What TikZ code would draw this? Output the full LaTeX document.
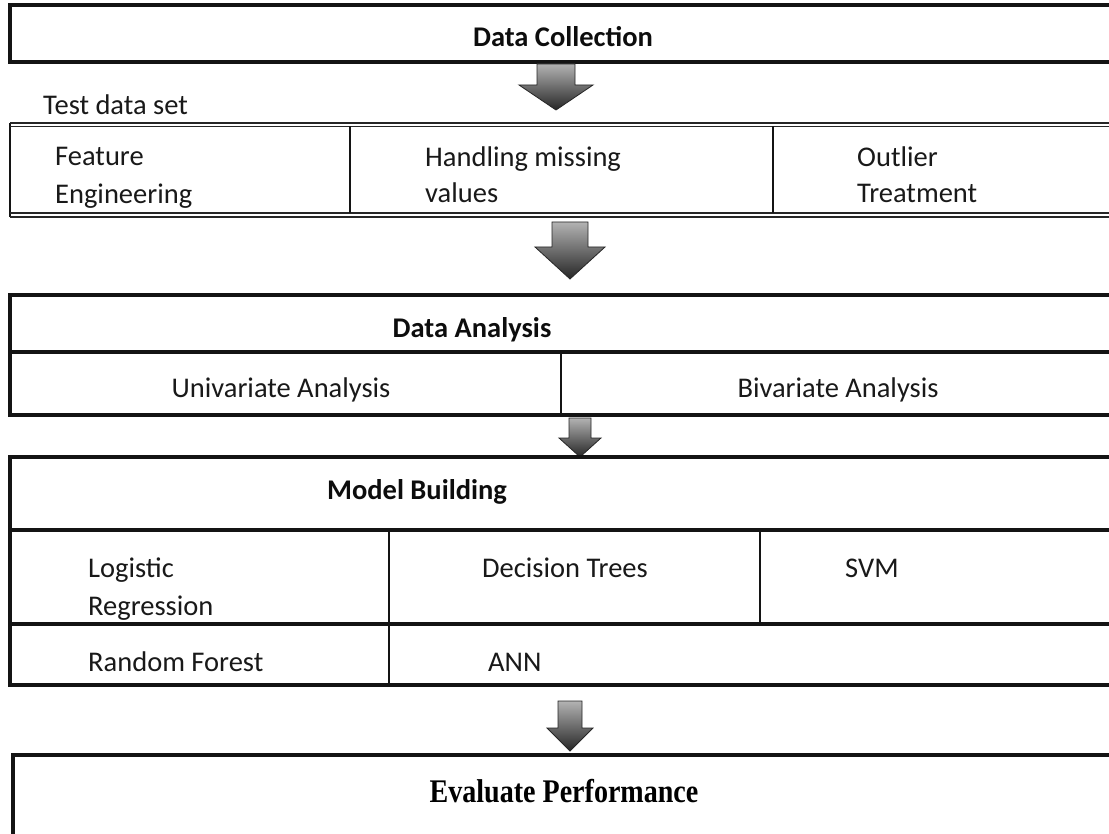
\documentclass[tikz,border=0pt]{standalone}
\usepackage{fontspec}
\setmainfont{Carlito}
\newfontfamily\evalfont{Liberation Serif}
\usetikzlibrary{calc}
\tikzset{
  box/.style={draw=black!92, line width=3.2pt, rectangle, inner sep=0pt, outer sep=0pt, anchor=north west},
  rowline/.style={draw=black!92, line width=3.2pt},
  colline/.style={draw=black!92, line width=2.2pt},
  dbl/.style={draw=black!85, line width=1.4pt},
  lbl/.style={inner sep=0pt, text=black!90, font=\fontsize{28.5}{34}\selectfont},
  lblw/.style={lbl, anchor=base west},
  lblc/.style={lbl, anchor=base},
  hdr/.style={inner sep=0pt, anchor=base, text=black!95, font=\fontsize{28.5}{34}\selectfont\bfseries},
  blockarrow/.style={draw=black!85, line width=0.8pt, top color=black!30, bottom color=black!85, line join=miter},
}
\newcommand\blockarr[6]{% cx, ytop, ybot, shaft half, head half, head start
  \path[blockarrow] ({#1-#4},#2) -- ({#1+#4},#2) -- ({#1+#4},#6) -- ({#1+#5},#6) -- (#1,#3)
    -- ({#1-#5},#6) -- ({#1-#4},#6) -- cycle;}
\begin{document}
\begin{tikzpicture}[x=1pt,y=-1pt]
\useasboundingbox (0,0) rectangle (1109,834);
\clip (0,0) rectangle (1109,834);
\fill[white] (0,0) rectangle (1109,834);

% Data Collection
\node[box, minimum width=1120pt, minimum height=57pt] (dc) at (10,5) {};
\node[hdr] (dct) at (563,47) {Data Collection};

% arrow 1
\blockarr{556}{64}{110}{19}{37}{85}

% Test data set table
\node[lblw] (tds) at (43,115) {Test data set};
\coordinate (t1tl) at (10,123);
\coordinate (t1bl) at (10,217);
\draw[colline, line width=2.6pt] (t1tl) -- (t1bl);
\draw[dbl] (t1tl) -- ++(1120,0);
\draw[dbl] (10,126.5) -- ++(1120,0);
\draw[dbl] (10,213) -- ++(1120,0);
\draw[dbl] (t1bl) -- ++(1120,0);
\coordinate (c1a) at (350,126.5);
\coordinate (c1b) at (350,213);
\coordinate (c2a) at (773,126.5);
\coordinate (c2b) at (773,213);
\draw[colline] (c1a) -- (c1b);
\draw[colline] (c2a) -- (c2b);
\node[lblw] (fe1) at (55,166) {Feature};
\node[lblw] (fe2) at (55,204) {Engineering};
\node[lblw] (hm1) at (425,167) {Handling missing};
\node[lblw] (hm2) at (425,203) {values};
\node[lblw] (ot1) at (857,167) {Outlier};
\node[lblw] (ot2) at (857,203) {Treatment};

% arrow 2
\blockarr{570}{222}{279}{18}{35}{247}

% Data Analysis
\node[box, minimum width=1120pt, minimum height=120pt] (da) at (10,295) {};
\coordinate (dal) at (10,352);
\coordinate (dar) at (1130,352);
\draw[rowline] (dal) -- (dar);
\coordinate (dva) at (561,352);
\coordinate (dvb) at (561,415);
\draw[colline] (dva) -- (dvb);
\node[hdr] (dat) at (472,338) {Data Analysis};
\node[lblc] (uni) at (281,398) {Univariate Analysis};
\node[lblc] (biv) at (838,398) {Bivariate Analysis};

% arrow 3
\blockarr{580}{418}{457}{11}{21}{438}

% Model Building
\node[box, minimum width=1120pt, minimum height=228pt] (mb) at (10,457) {};
\coordinate (r1l) at (10,530);
\coordinate (r1r) at (1130,530);
\coordinate (r2l) at (10,624);
\coordinate (r2r) at (1130,624);
\draw[rowline] (r1l) -- (r1r);
\draw[rowline] (r2l) -- (r2r);
\coordinate (m1a) at (389,530);
\coordinate (m1b) at (389,685);
\coordinate (m2a) at (760,530);
\coordinate (m2b) at (760,624);
\draw[colline] (m1a) -- (m1b);
\draw[colline] (m2a) -- (m2b);
\node[hdr] (mbt) at (417,499) {Model Building};
\node[lblw] (lr1) at (88,577) {Logistic};
\node[lblw] (lr2) at (88,615) {Regression};
\node[lblc] (dtr) at (565,577) {Decision Trees};
\node[lblw] (svm) at (845,577) {SVM};
\node[lblw] (rf) at (88,671) {Random Forest};
\node[lblw] (ann) at (488,671) {ANN};

% arrow 4
\blockarr{570}{701}{751}{12}{23}{728}

% Evaluate Performance
\node[box, minimum width=1120pt, minimum height=100pt] (ep) at (13,755) {};
\node[inner sep=0pt, anchor=base, text=black] (ept) at (564,802)
  {\scalebox{0.85}[1]{\evalfont\bfseries\fontsize{33}{38}\selectfont Evaluate Performance}};
\end{tikzpicture}
\end{document}
